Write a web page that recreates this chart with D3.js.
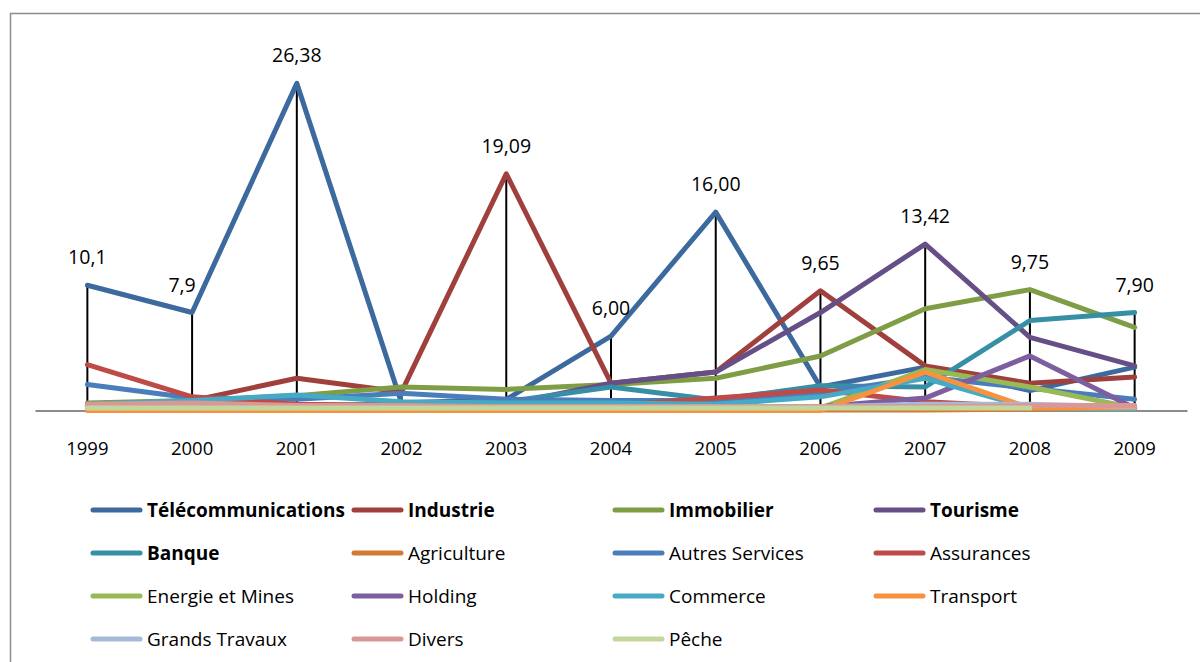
<!DOCTYPE html>
<html>
<head>
<meta charset="utf-8">
<script src="https://cdn.jsdelivr.net/npm/d3@7"></script>
<style>
  body { margin: 0; background: #fff; }
  svg text { font-family: "Open Sans", sans-serif; fill: #000; }
</style>
</head>
<body>
<div id="chart"></div>
<script>
// data
const years = ["1999", "2000", "2001", "2002", "2003", "2004", "2005", "2006", "2007", "2008", "2009"];

const telecom     = [10.1, 7.9, 26.38, 0.6, 0.9, 6.0, 16.0, 1.9, 3.5, 1.6, 3.5];
const industrie   = [0.4, 0.8, 2.6, 1.5, 19.09, 2.2, 3.1, 9.65, 3.6, 2.2, 2.7];
const immobilier  = [0.6, 0.8, 1.2, 1.9, 1.7, 2.1, 2.6, 4.4, 8.2, 9.75, 6.7];
const tourisme    = [0.3, 0.3, 0.3, 0.3, 0.5, 2.2, 3.1, 7.9, 13.42, 5.9, 3.6];
const banque      = [0.4, 0.5, 0.4, 0.5, 0.7, 1.9, 0.85, 2.0, 1.9, 7.25, 7.9];
const agriculture = [0.05, 0.05, 0.05, 0.05, 0.05, 0.05, 0.05, 0.05, 0.05, 0.1, 0.2];
const autresServ  = [2.1, 1.0, 0.9, 1.4, 0.9, 0.8, 0.8, 1.4, 2.7, 1.8, 0.9];
const assurances  = [3.7, 1.1, 0.5, 0.4, 0.3, 0.4, 1.0, 1.65, 0.7, 0.3, 0.3];
const energie     = [0.1, 0.1, 0.1, 0.1, 0.1, 0.1, 0.1, 0.2, 3.3, 1.9, 0.2];
const holding     = [0.2, 0.2, 0.2, 0.2, 0.2, 0.2, 0.2, 0.3, 1.0, 4.4, 0.2];
const commerce    = [0.5, 0.8, 1.25, 0.7, 0.6, 0.6, 0.5, 1.1, 2.6, 0.2, 0.1];
const transport   = [0.0, 0.0, 0.0, 0.0, 0.0, 0.0, 0.0, 0.0, 3.1, 0.2, 0.2];
const grandsTrav  = [0.3, 0.4, 0.3, 0.3, 0.3, 0.3, 0.3, 0.3, 0.5, 0.5, 0.3];
const divers      = [0.5, 0.6, 0.4, 0.4, 0.3, 0.3, 0.3, 0.3, 0.3, 0.4, 0.4];
const peche       = [0.2, 0.2, 0.2, 0.2, 0.2, 0.2, 0.2, 0.2, 0.2, 0.2, null];

const names = ["Télécommunications", "Industrie", "Immobilier", "Tourisme", "Banque",
  "Agriculture", "Autres Services", "Assurances", "Energie et Mines", "Holding",
  "Commerce", "Transport", "Grands Travaux", "Divers", "Pêche"];
const values = [telecom, industrie, immobilier, tourisme, banque, agriculture, autresServ,
  assurances, energie, holding, commerce, transport, grandsTrav, divers, peche];
const colors = ["#3d6a9e", "#a0403d", "#7f9d45", "#664f86", "#378fa5", "#d37a34", "#4a7ebb",
  "#be4b48", "#98b954", "#7d5fa0", "#46aac4", "#f69240", "#a5bad9", "#d99795", "#c3d69b"];
const boldNames = 5;

// labels over the top point of each year
const topLabels = ["10,1", "7,9", "26,38", null, "19,09", "6,00", "16,00", "9,65", "13,42", "9,75", "7,90"];

// layout
const W = 1200, H = 662;
const svg = d3.select("#chart").append("svg")
  .attr("width", W)
  .attr("height", H);

svg.append("rect")
  .attr("x", 10.5).attr("y", 13.5)
  .attr("width", W).attr("height", H)
  .attr("fill", "none")
  .attr("stroke", "#8c8c8c")
  .attr("stroke-width", 1.5);

const x = d3.scaleBand().domain(years).range([35, 1187]);
const y = d3.scaleLinear().domain([0, 30]).range([410.5, 38.5]);
const cx = d => x(d) + x.bandwidth() / 2;

// drop lines
const maxes = years.map((yr, i) => d3.max(values, s => s[i]));
svg.append("g").selectAll("line")
  .data(years)
  .join("line")
    .attr("x1", d => cx(d)).attr("x2", d => cx(d))
    .attr("y1", (d, i) => y(maxes[i]))
    .attr("y2", y(0))
    .attr("stroke", "#000")
    .attr("stroke-width", 2);

// x axis
const axis = svg.append("g")
  .attr("transform", "translate(0," + y(0) + ")")
  .call(d3.axisBottom(x).tickSize(0).tickPadding(31));
axis.select(".domain").attr("stroke", "#8c8c8c").attr("stroke-width", 2);
axis.selectAll("text")
  .style("font-family", "'Open Sans', sans-serif")
  .style("font-size", "18.5px");

// series
const line = d3.line()
  .defined(d => d[1] != null)
  .x(d => cx(d[0]))
  .y(d => y(d[1]));

svg.append("g").selectAll("path")
  .data(values)
  .join("path")
    .attr("d", s => line(years.map((yr, i) => [yr, s[i]])))
    .attr("fill", "none")
    .attr("stroke", (s, i) => colors[i])
    .attr("stroke-width", 5)
    .attr("stroke-linejoin", "round")
    .attr("stroke-linecap", "round");

// data labels
const labelDx = [0, -10, 0, 0, 0, 0, 0, 0, 0, 0, 0];
svg.append("g").selectAll("text")
  .data(years.filter((d, i) => topLabels[i] != null))
  .join("text")
    .attr("x", d => cx(d) + labelDx[years.indexOf(d)])
    .attr("y", d => y(maxes[years.indexOf(d)]) - 21)
    .attr("text-anchor", "middle")
    .style("font-size", "19.5px")
    .text(d => topLabels[years.indexOf(d)]);

// legend
const legend = svg.append("g").selectAll("g")
  .data(names)
  .join("g")
    .attr("transform", (d, i) => "translate(" + (93 + 261 * (i % 4)) + "," + (510 + 43 * Math.floor(i / 4)) + ")");

legend.append("line")
  .attr("x1", 0).attr("x2", 47)
  .attr("stroke", (d, i) => colors[i])
  .attr("stroke-width", 5)
  .attr("stroke-linecap", "round");

legend.append("text")
  .attr("x", 54)
  .attr("dy", "0.35em")
  .style("font-size", "19px")
  .style("font-weight", (d, i) => i < boldNames ? "bold" : "normal")
  .text(d => d);
</script>
</body>
</html>
